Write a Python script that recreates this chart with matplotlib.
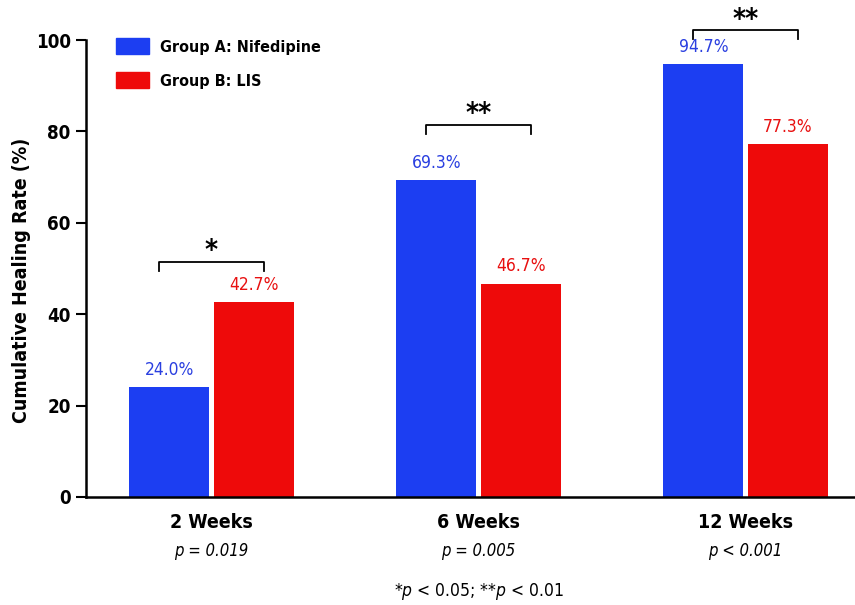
import numpy as np
import matplotlib.pyplot as plt
from matplotlib.patches import Patch
from matplotlib import font_manager

# pick a condensed sans if one is installed
FONT, STRETCH = 'Liberation Sans', 'normal'
fl = font_manager.fontManager.ttflist
if any(f.name == 'Liberation Sans Narrow' for f in fl):
    FONT, STRETCH = 'Liberation Sans Narrow', 'normal'
elif any(f.name == 'DejaVu Sans' and f.stretch == 'condensed' for f in fl):
    FONT, STRETCH = 'DejaVu Sans', 'condensed'
plt.rcParams['font.family'] = [FONT, 'DejaVu Sans']
plt.rcParams['font.stretch'] = STRETCH
plt.rcParams['mathtext.fontset'] = 'custom'
plt.rcParams['mathtext.it'] = FONT + ':italic'
plt.rcParams['mathtext.rm'] = FONT

# data
weeks = ['2 Weeks', '6 Weeks', '12 Weeks']
p_values = ['p = 0.019', 'p = 0.005', 'p < 0.001']
stars = ['*', '**', '**']
bracket_y = [51.5, 81.5, 102.2]
group_a = [24.0, 69.3, 94.7]   # Nifedipine
group_b = [42.7, 46.7, 77.3]   # LIS

BLUE = '#1c3ef2'
RED = '#ee0a0a'
TXT_BLUE = '#2a3fe0'
TXT_RED = '#e81010'

fig = plt.figure(figsize=(8.55, 6.05), dpi=100)
ax = fig.add_axes([86/855, 1-497/605, 1-86/855, 457/605])

x = np.arange(len(weeks))
w = 0.30
gap = 0.008
ax.bar(x - w/2 - gap, group_a, w, color=BLUE, zorder=2)
ax.bar(x + w/2 + gap, group_b, w, color=RED, zorder=2)

for i in range(len(weeks)):
    ax.text(x[i] - w/2 - gap, group_a[i] + 1.8, f'{group_a[i]:.1f}%', color=TXT_BLUE,
            ha='center', va='bottom', fontsize=12.5, fontweight='medium')
    ax.text(x[i] + w/2 + gap, group_b[i] + 1.8, f'{group_b[i]:.1f}%', color=TXT_RED,
            ha='center', va='bottom', fontsize=12.5, fontweight='medium')
    # significance bracket
    yb = bracket_y[i]
    xl, xr = x[i] - 0.195, x[i] + 0.195
    ax.plot([xl, xl, xr, xr], [yb - 2, yb, yb, yb - 2], color='black', lw=1.3,
            clip_on=False, zorder=3)
    ax.text(x[i], yb - 0.8, stars[i], ha='center', va='bottom', fontsize=20,
            fontweight='bold', clip_on=False)

ax.set_xlim(-0.47, 2.41)
ax.set_ylim(0, 100)
ax.set_yticks([0, 20, 40, 60, 80, 100])
ax.set_xticks([])
ax.tick_params(axis='y', length=7, width=1.5, labelsize=13.5, pad=4)
for lab in ax.get_yticklabels():
    lab.set_fontweight('bold')
for s in ['top', 'right']:
    ax.spines[s].set_visible(False)
for s in ['left', 'bottom']:
    ax.spines[s].set_linewidth(1.8)

fig.text(22/855, 1-280/605, 'Cumulative Healing Rate (%)', rotation=90,
         ha='center', va='center', fontsize=14, fontweight='bold')

trans = ax.get_xaxis_transform()
for i in range(len(weeks)):
    ax.text(x[i], -0.055, weeks[i], transform=trans, ha='center', va='center',
            fontsize=14, fontweight='bold')
    ax.text(x[i], -0.118, p_values[i], transform=trans, ha='center', va='center',
            fontsize=12, style='italic')
ax.text(x[1], -0.207, r'*$p$ < 0.05; **$p$ < 0.01', transform=trans, ha='center',
        va='center', fontsize=12.5)

handles = [Patch(color=BLUE), Patch(color=RED)]
ax.legend(handles, ['Group A: Nifedipine', 'Group B: LIS'], loc='upper left',
          bbox_to_anchor=(0.02, 1.035), frameon=False, handlelength=2.1,
          handleheight=1.15, handletextpad=0.7, labelspacing=1.1,
          prop={'weight': 'bold', 'size': 11.5})

fig.savefig('out.png', dpi=100)
